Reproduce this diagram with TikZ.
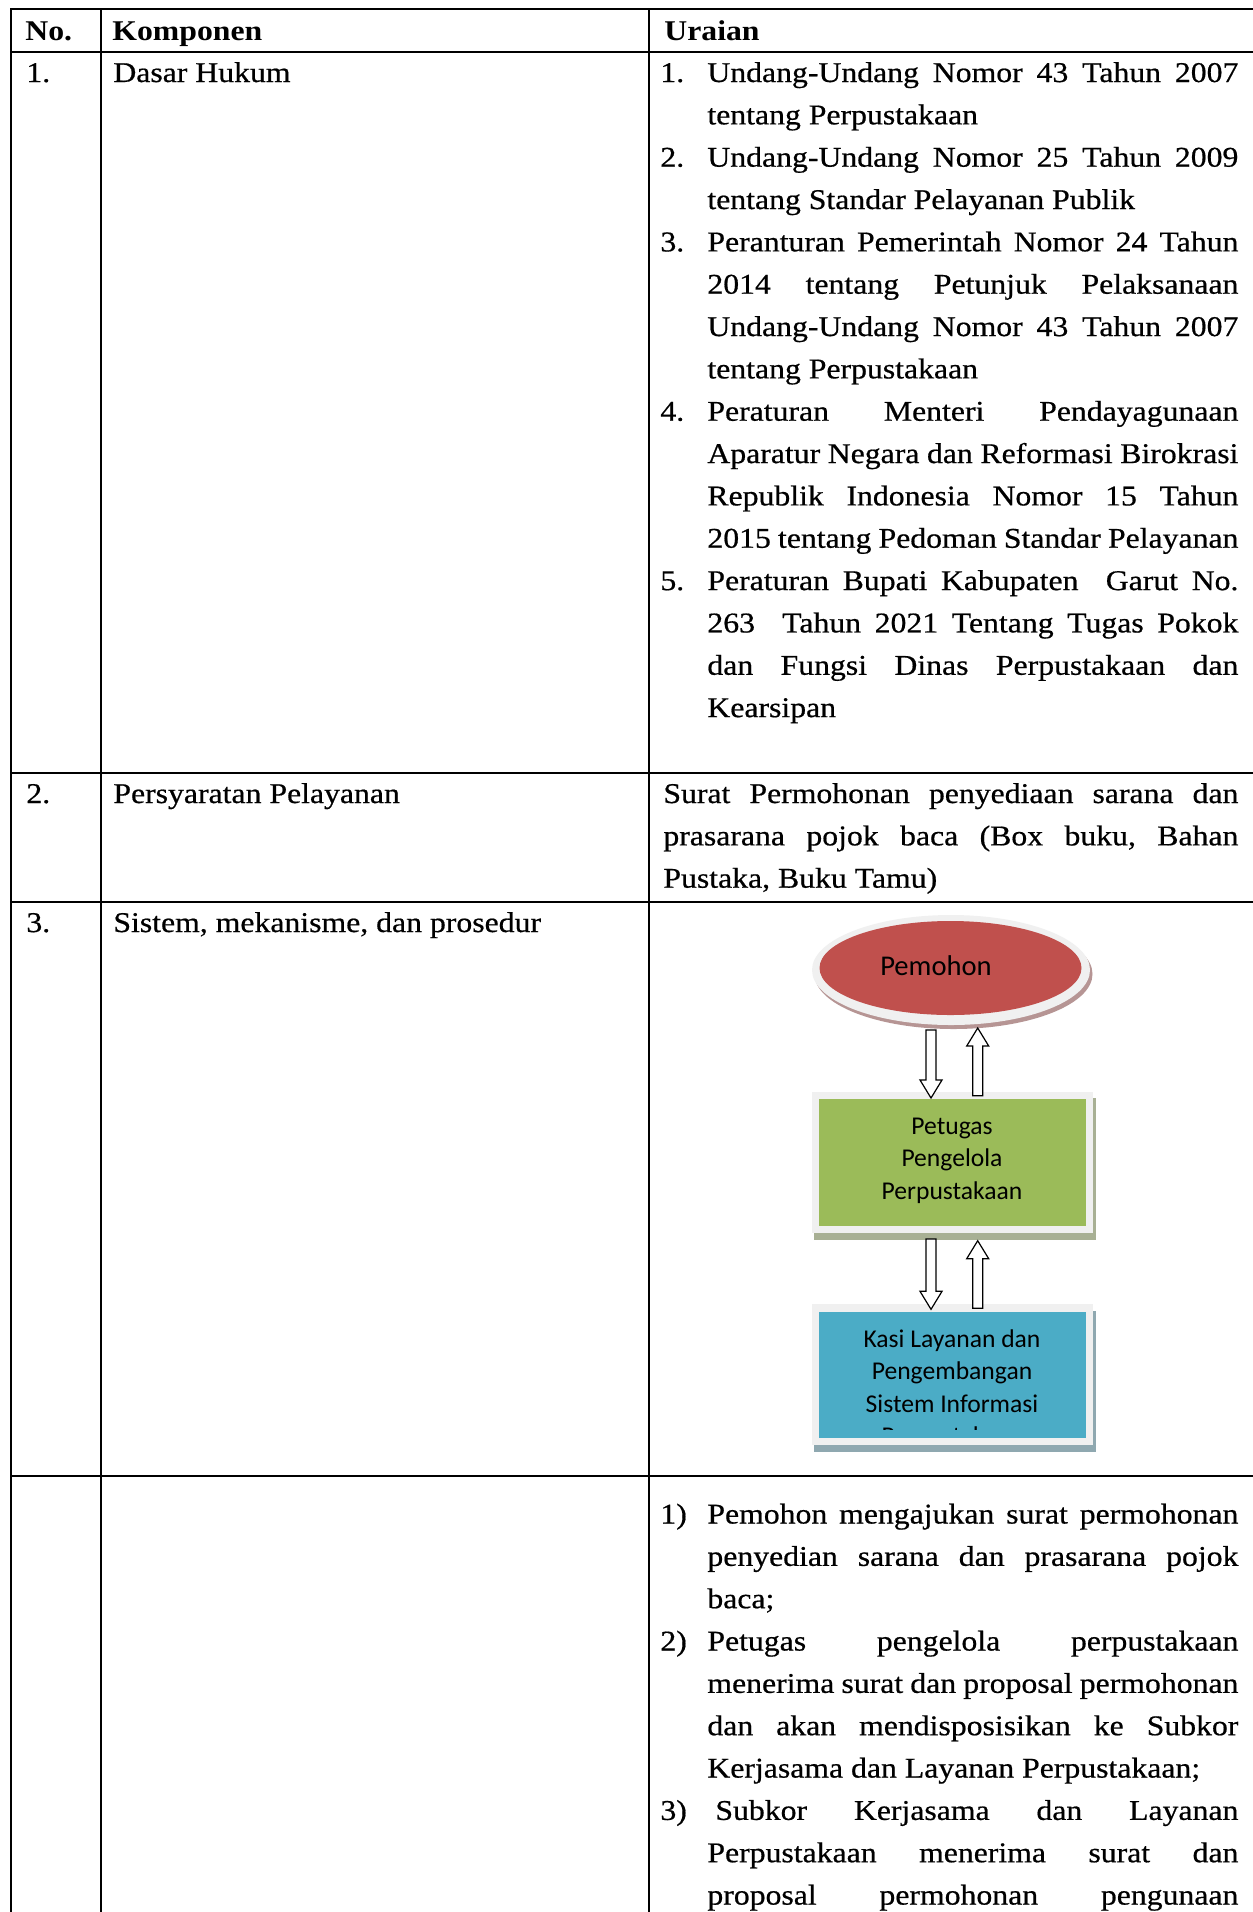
\documentclass[tikz,border=0pt]{standalone}
\usepackage{fontspec}
\setmainfont{Liberation Serif}[FakeStretch=1.11,UprightFeatures={FakeBold=0.6}]
\newfontfamily\diagfont{Carlito}
\usetikzlibrary{shapes.geometric,calc}

\definecolor{pemred}{HTML}{C0504D}
\definecolor{boxgreen}{HTML}{9BBB59}
\definecolor{boxblue}{HTML}{4BACC6}
\definecolor{rimgray}{HTML}{F0F0F0}
\definecolor{redshadow}{HTML}{B69594}
\definecolor{greenshadow}{HTML}{A8B094}
\definecolor{blueshadow}{HTML}{8FA8B0}

\newcommand\bodyfont{\fontsize{14.3pt}{21.17pt}\selectfont}
\newcommand\diagtext{\diagfont\fontsize{12.8pt}{16.25pt}\selectfont}
\newlength\numw \setlength\numw{23.5pt}
\newlength\txtw \setlength\txtw{265.5pt}
\newcommand\JustLw[2]{\hbox to #1{\frenchspacing\spaceskip=.25em plus 1fil minus .08em\xspaceskip=\spaceskip\relax#2}}
\newcommand\JustL[1]{\JustLw{\txtw}{#1}}
\newcommand\NatL[1]{\hbox to\txtw{#1\hfil}}
\newcommand\ItemJ[2]{\hbox{\hbox to\numw{#1\hfil}\JustL{#2}}}
\newcommand\ItemN[2]{\hbox{\hbox to\numw{#1\hfil}\NatL{#2}}}
\newcommand\ContJ[1]{\hbox{\hskip\numw\JustL{#1}}}
\newcommand\ContN[1]{\hbox{\hskip\numw\NatL{#1}}}
\newcommand\LineStack[1]{\vtop{\baselineskip=21.17pt\lineskiplimit=-\maxdimen\lineskip=0pt\relax#1}}
\newcommand\CenL[1]{\hbox to 130pt{\hfil#1\hfil}}
\newcommand\DiagStack[1]{\vtop{\baselineskip=16.25pt\lineskiplimit=-\maxdimen\lineskip=0pt\relax#1}}

\newcommand\DownBlock[2]{\draw[blockarrow] ($(#1)+(-5,0)$) -- ($(#2)+(-5,-18)$) -- ($(#2)+(-11,-18)$) -- (#2) -- ($(#2)+(11,-18)$) -- ($(#2)+(5,-18)$) -- ($(#1)+(5,0)$) -- cycle;}
\newcommand\UpBlock[2]{\draw[blockarrow] ($(#2)+(-5,0)$) -- ($(#1)+(-5,18)$) -- ($(#1)+(-11,18)$) -- (#1) -- ($(#1)+(11,18)$) -- ($(#1)+(5,18)$) -- ($(#2)+(5,0)$) -- cycle;}

\begin{document}
\begin{tikzpicture}[x=0.5pt,y=-0.5pt,
  rule/.style={line width=1pt},
  txt/.style={anchor=base west, inner sep=0pt, font=\bodyfont},
  dtxt/.style={anchor=base, inner sep=0pt, font=\diagtext},
  blockarrow/.style={draw=black, fill=white, line width=0.6pt, line join=miter}]
\useasboundingbox (0,0) rectangle (1253,1912);
\fill[white] (0,0) rectangle (1253,1912);

% table rules
\draw[rule] (1253,9) -- (11,9) -- (11,1912);
\draw[rule] (101,9) -- (101,1912);
\draw[rule] (649,9) -- (649,1912);
\draw[rule] (11,52) -- (1253,52);
\draw[rule] (11,773) -- (1253,773);
\draw[rule] (11,902) -- (1253,902);
\draw[rule] (11,1476) -- (1253,1476);

% header
\node[txt] (hno) at (25,40) {\textbf{No.}};
\node[txt] (hkomp) at (112,40) {\textbf{Komponen}};
\node[txt] (hur) at (664,40) {\textbf{Uraian}};

% row 1
\node[txt] (n1) at (26,82) {1.};
\node[txt] (k1) at (113,82) {Dasar Hukum};
\node[txt] (u1) at (660,82) {\LineStack{%
\ItemJ{1.}{Undang-Undang Nomor 43 Tahun 2007}
\ContN{tentang Perpustakaan}
\ItemJ{2.}{Undang-Undang Nomor 25 Tahun 2009}
\ContN{tentang Standar Pelayanan Publik}
\ItemJ{3.}{Peranturan Pemerintah Nomor 24 Tahun}
\ContJ{2014 tentang Petunjuk Pelaksanaan}
\ContJ{Undang-Undang Nomor 43 Tahun 2007}
\ContN{tentang Perpustakaan}
\ItemJ{4.}{Peraturan Menteri Pendayagunaan}
\ContJ{Aparatur Negara dan Reformasi Birokrasi}
\ContJ{Republik Indonesia Nomor 15 Tahun}
\ContJ{2015 tentang Pedoman Standar Pelayanan}
\ItemJ{5.}{Peraturan Bupati Kabupaten\space\space Garut No.}
\ContJ{263\space\space Tahun 2021 Tentang Tugas Pokok}
\ContJ{dan Fungsi Dinas Perpustakaan dan}
\ContN{Kearsipan}}};

% row 2
\node[txt] (n2) at (26,803) {2.};
\node[txt] (k2) at (113,803) {Persyaratan Pelayanan};
\node[txt] (u2) at (663,803) {\LineStack{%
\JustLw{287.5pt}{Surat Permohonan penyediaan sarana dan}
\JustLw{287.5pt}{prasarana pojok baca (Box buku, Bahan}
\hbox to 287.5pt{Pustaka, Buku Tamu)\hfil}}};

% row 3
\node[txt] (n3) at (26,932) {3.};
\node[txt] (k3) at (113,932) {Sistem, mekanisme, dan prosedur};

% diagram: Pemohon
\fill[redshadow] (953.5,974) ellipse [x radius=69.5pt, y radius=27.5pt];
\fill[rimgray] (951,970) ellipse [x radius=69.5pt, y radius=27.5pt];
\node[ellipse, fill=pemred, minimum width=131pt, minimum height=47pt, inner sep=0pt] (pem) at (950.5,968) {};
\node[anchor=base, inner sep=0pt, font={\diagfont\fontsize{14.3pt}{17pt}\selectfont}] (pemtxt) at (936,975) {Pemohon};

% Petugas
\fill[greenshadow] (814.2,1098.2) rectangle (1095.8,1239.8);
\fill[rimgray] (811.7,1091.7) rectangle (1093.3,1233.3);
\node[rectangle, fill=boxgreen, minimum width=133.35pt, minimum height=63.35pt, inner sep=0pt] (pet) at (952.65,1162.65) {};
\node[dtxt] (pettxt) at (952,1134) {\DiagStack{\CenL{Petugas}\CenL{Pengelola}\CenL{Perpustakaan}}};

% Kasi
\fill[blueshadow] (814.2,1310.5) rectangle (1095.8,1451.5);
\fill[rimgray] (811.7,1304) rectangle (1093.3,1445);
\node[rectangle, fill=boxblue, minimum width=133.35pt, minimum height=63.3pt, inner sep=0pt] (kasi) at (952.65,1375) {};
\begin{scope}
\clip (819.3,1311.7) rectangle (1086,1429);
\node[dtxt] (kasitxt) at (952,1347) {\DiagStack{\CenL{Kasi Layanan dan}\CenL{Pengembangan}\CenL{Sistem Informasi}\CenL{Perpustakaan}}};
\end{scope}

% block arrows
\coordinate (d1t) at (931,1030);
\coordinate (d1b) at (931,1098);
\coordinate (u1t) at (977.7,1028);
\coordinate (u1b) at (977.7,1095.7);
\coordinate (d2t) at (931,1239);
\coordinate (d2b) at (931,1309.3);
\coordinate (u2t) at (977.7,1240.7);
\coordinate (u2b) at (977.7,1308.3);
\DownBlock{d1t}{d1b}
\UpBlock{u1t}{u1b}
\DownBlock{d2t}{d2b}
\UpBlock{u2t}{u2b}

% row 4
\node[txt] (u4) at (660,1523.5) {\LineStack{%
\ItemJ{1)}{Pemohon mengajukan surat permohonan}
\ContJ{penyedian sarana dan prasarana pojok}
\ContN{baca;}
\ItemJ{2)}{Petugas pengelola perpustakaan}
\ContJ{menerima surat dan proposal permohonan}
\ContJ{dan akan mendisposisikan ke Subkor}
\ContN{Kerjasama dan Layanan Perpustakaan;}
\ItemJ{3)}{\kern4pt Subkor Kerjasama dan Layanan}
\ContJ{Perpustakaan menerima surat dan}
\ContJ{proposal permohonan pengunaan}}};
\end{tikzpicture}
\end{document}
